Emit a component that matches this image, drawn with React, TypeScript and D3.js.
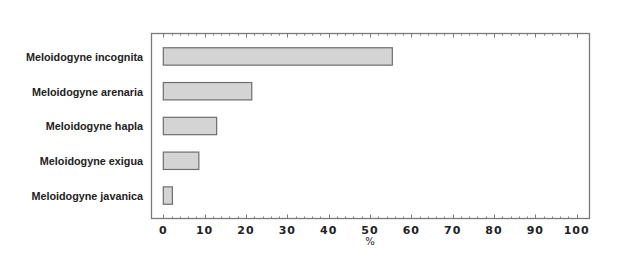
import React, { useEffect, useRef } from 'react';
import * as d3 from 'd3';

const species = [
  'Meloidogyne incognita',
  'Meloidogyne arenaria',
  'Meloidogyne hapla',
  'Meloidogyne exigua',
  'Meloidogyne javanica',
];
const percent = [55.4, 21.4, 12.9, 8.6, 2.2];
const xTicks = [0, 10, 20, 30, 40, 50, 60, 70, 80, 90, 100];
const minorTicks = d3.range(0, 101, 2);

const App = () => {
  const ref = useRef<SVGSVGElement>(null);

  useEffect(() => {
    const width = 630;
    const height = 265;
    const frame = { left: 151.5, top: 33.5, right: 589.5, bottom: 218.5 };

    const svg = d3.select(ref.current);
    svg.selectAll('*').remove();
    svg.attr('width', width).attr('height', height);

    const x = d3.scaleLinear().domain([0, 100]).range([163.3, 576.7]);
    const y = d3
      .scaleBand()
      .domain(species)
      .range([frame.top, frame.bottom])
      .paddingInner(0.5)
      .paddingOuter(0.41);

    const data = species.map((name, i) => ({ name, value: percent[i] }));

    // bars
    svg
      .append('g')
      .selectAll('rect')
      .data(data)
      .enter()
      .append('rect')
      .attr('x', x(0))
      .attr('y', (d) => y(d.name)!)
      .attr('width', (d) => x(d.value) - x(0))
      .attr('height', y.bandwidth())
      .attr('fill', '#d4d4d4')
      .attr('stroke', '#6e6e6e')
      .attr('stroke-width', 1.2);

    // frame
    svg
      .append('rect')
      .attr('x', frame.left)
      .attr('y', frame.top)
      .attr('width', frame.right - frame.left)
      .attr('height', frame.bottom - frame.top)
      .attr('fill', 'none')
      .attr('stroke', '#7a7a7a')
      .attr('stroke-width', 1.3);

    // ticks, pointing inward on top and bottom
    const ticks = svg.append('g').attr('stroke', '#7a7a7a').attr('stroke-width', 1);
    minorTicks.forEach((t) => {
      const len = t % 10 === 0 ? 4 : 2;
      const xp = Math.round(x(t)) + 0.5;
      ticks.append('line').attr('x1', xp).attr('x2', xp).attr('y1', frame.bottom).attr('y2', frame.bottom - len);
      ticks.append('line').attr('x1', xp).attr('x2', xp).attr('y1', frame.top).attr('y2', frame.top + len);
    });

    // tick labels
    svg
      .append('g')
      .selectAll('text')
      .data(xTicks)
      .enter()
      .append('text')
      .attr('x', (d) => x(d))
      .attr('y', 234)
      .attr('text-anchor', 'middle')
      .attr('font-family', 'DejaVu Sans')
      .attr('font-weight', 'bold')
      .attr('font-size', 11)
      .attr('letter-spacing', 1)
      .attr('fill', '#222')
      .text((d) => d);

    svg
      .append('text')
      .attr('x', x(50))
      .attr('y', 245)
      .attr('text-anchor', 'middle')
      .attr('font-family', 'DejaVu Sans')
      .attr('font-size', 10)
      .attr('fill', '#222')
      .text('%');

    // category labels
    svg
      .append('g')
      .selectAll('text')
      .data(species)
      .enter()
      .append('text')
      .attr('x', 143)
      .attr('y', (d) => y(d)! + y.bandwidth() / 2)
      .attr('dy', '0.4em')
      .attr('text-anchor', 'end')
      .attr('font-family', 'Liberation Sans, Arial')
      .attr('font-weight', 'bold')
      .attr('font-size', 10.8)
      .attr('fill', '#222')
      .text((d) => d);
  }, []);

  return (
    <div style={{ position: 'absolute', left: 0, top: 0 }}>
      <svg ref={ref}></svg>
    </div>
  );
};

export default App;
